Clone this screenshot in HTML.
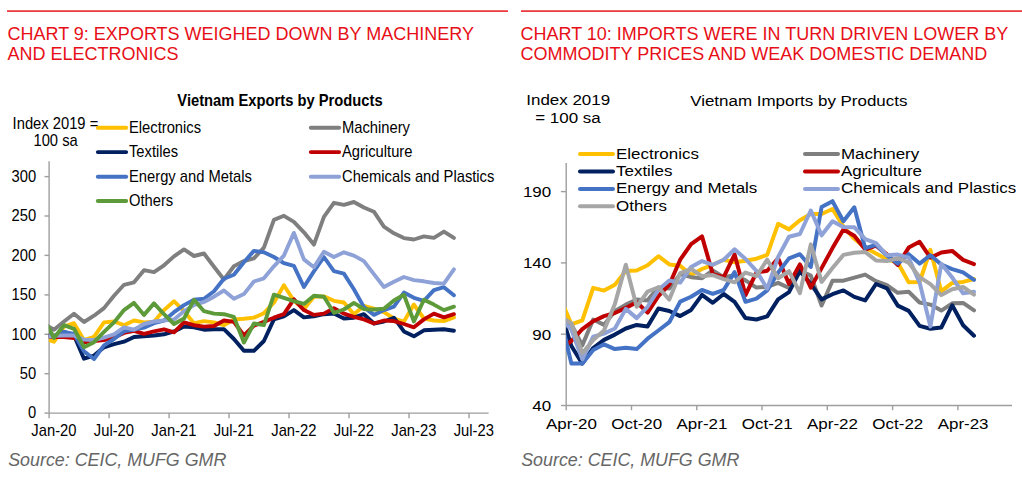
<!DOCTYPE html>
<html lang="en"><head><meta charset="utf-8"><title>Vietnam trade charts</title>
<style>html,body{margin:0;padding:0;background:#fff;}body{width:1022px;height:485px;overflow:hidden;}svg{display:block;font-family:"Liberation Sans", Arial, sans-serif;}</style></head><body>
<svg width="1022" height="485" viewBox="0 0 1022 485">
<rect width="1022" height="485" fill="#fff"/>
<rect x="7" y="10.3" width="501" height="1.6" fill="#E8262B"/>
<rect x="521" y="10.3" width="501" height="1.6" fill="#E8262B"/>
<text x="7.5" y="40.0" font-size="18.0" text-anchor="start" fill="#E70F17" font-weight="normal" font-style="normal">CHART 9: EXPORTS WEIGHED DOWN BY MACHINERY</text>
<text x="7.5" y="60.0" font-size="18.0" text-anchor="start" fill="#E70F17" font-weight="normal" font-style="normal">AND ELECTRONICS</text>
<text x="520.5" y="40.0" font-size="18.0" text-anchor="start" fill="#E70F17" font-weight="normal" font-style="normal">CHART 10: IMPORTS WERE IN TURN DRIVEN LOWER BY</text>
<text x="520.5" y="60.0" font-size="18.0" text-anchor="start" fill="#E70F17" font-weight="normal" font-style="normal">COMMODITY PRICES AND WEAK DOMESTIC DEMAND</text>
<g stroke="#9E9E9E" stroke-width="1.4" fill="none">
<line x1="49.1" y1="161.3" x2="49.1" y2="413.1"/>
<line x1="49.1" y1="413.1" x2="488.6" y2="413.1"/>
<line x1="44.5" y1="413.1" x2="49.1" y2="413.1"/>
<line x1="44.5" y1="373.7" x2="49.1" y2="373.7"/>
<line x1="44.5" y1="334.3" x2="49.1" y2="334.3"/>
<line x1="44.5" y1="294.9" x2="49.1" y2="294.9"/>
<line x1="44.5" y1="255.4" x2="49.1" y2="255.4"/>
<line x1="44.5" y1="216.0" x2="49.1" y2="216.0"/>
<line x1="44.5" y1="176.6" x2="49.1" y2="176.6"/>
<line x1="49.1" y1="413.1" x2="49.1" y2="418.2"/>
<line x1="109.1" y1="413.1" x2="109.1" y2="418.2"/>
<line x1="169.1" y1="413.1" x2="169.1" y2="418.2"/>
<line x1="229.0" y1="413.1" x2="229.0" y2="418.2"/>
<line x1="289.0" y1="413.1" x2="289.0" y2="418.2"/>
<line x1="349.0" y1="413.1" x2="349.0" y2="418.2"/>
<line x1="409.0" y1="413.1" x2="409.0" y2="418.2"/>
<line x1="469.0" y1="413.1" x2="469.0" y2="418.2"/>
</g>
<text transform="translate(36.2,418.3) scale(0.922,1)" font-size="16.0" text-anchor="end" fill="#000" font-weight="normal" font-style="normal">0</text>
<text transform="translate(36.2,378.9) scale(0.922,1)" font-size="16.0" text-anchor="end" fill="#000" font-weight="normal" font-style="normal">50</text>
<text transform="translate(36.2,339.5) scale(0.922,1)" font-size="16.0" text-anchor="end" fill="#000" font-weight="normal" font-style="normal">100</text>
<text transform="translate(36.2,300.1) scale(0.922,1)" font-size="16.0" text-anchor="end" fill="#000" font-weight="normal" font-style="normal">150</text>
<text transform="translate(36.2,260.6) scale(0.922,1)" font-size="16.0" text-anchor="end" fill="#000" font-weight="normal" font-style="normal">200</text>
<text transform="translate(36.2,221.2) scale(0.922,1)" font-size="16.0" text-anchor="end" fill="#000" font-weight="normal" font-style="normal">250</text>
<text transform="translate(36.2,181.8) scale(0.922,1)" font-size="16.0" text-anchor="end" fill="#000" font-weight="normal" font-style="normal">300</text>
<text transform="translate(53.9,436.4) scale(0.922,1)" font-size="16.0" text-anchor="middle" fill="#000" font-weight="normal" font-style="normal">Jan-20</text>
<text transform="translate(113.9,436.4) scale(0.922,1)" font-size="16.0" text-anchor="middle" fill="#000" font-weight="normal" font-style="normal">Jul-20</text>
<text transform="translate(173.9,436.4) scale(0.922,1)" font-size="16.0" text-anchor="middle" fill="#000" font-weight="normal" font-style="normal">Jan-21</text>
<text transform="translate(233.8,436.4) scale(0.922,1)" font-size="16.0" text-anchor="middle" fill="#000" font-weight="normal" font-style="normal">Jul-21</text>
<text transform="translate(293.8,436.4) scale(0.922,1)" font-size="16.0" text-anchor="middle" fill="#000" font-weight="normal" font-style="normal">Jan-22</text>
<text transform="translate(353.8,436.4) scale(0.922,1)" font-size="16.0" text-anchor="middle" fill="#000" font-weight="normal" font-style="normal">Jul-22</text>
<text transform="translate(413.8,436.4) scale(0.922,1)" font-size="16.0" text-anchor="middle" fill="#000" font-weight="normal" font-style="normal">Jan-23</text>
<text transform="translate(473.8,436.4) scale(0.922,1)" font-size="16.0" text-anchor="middle" fill="#000" font-weight="normal" font-style="normal">Jul-23</text>
<clipPath id="cl"><rect x="48.800000000000004" y="150" width="450" height="270"/></clipPath>
<g clip-path="url(#cl)">
<polyline points="47.1,339.3 54.0,341.7 64.0,326.6 74.0,323.2 84.0,340.2 94.0,336.8 104.0,322.4 114.0,321.5 124.0,325.2 134.0,320.5 144.0,322.4 154.0,321.7 164.0,310.1 174.0,301.2 184.0,311.2 194.0,323.2 204.0,321.1 214.0,322.4 223.9,325.2 233.9,319.4 243.9,318.7 253.9,317.6 263.9,313.2 273.9,302.7 283.9,285.2 293.9,300.8 303.9,309.1 313.9,296.7 323.9,296.4 333.9,300.8 343.9,302.5 353.9,314.2 363.9,306.0 373.9,308.7 383.9,312.2 393.9,318.5 403.9,321.5 413.9,304.6 423.9,318.5 433.9,320.5 443.9,321.1 453.9,317.4" fill="none" stroke="#FFC000" stroke-width="3.9" stroke-linejoin="round" stroke-linecap="round"/>
<polyline points="47.1,325.8 54.0,329.7 64.0,321.5 74.0,313.8 84.0,322.0 94.0,315.7 104.0,308.1 114.0,295.7 124.0,284.8 134.0,282.3 144.0,270.2 154.0,272.2 164.0,265.3 174.0,256.4 184.0,249.4 194.0,256.0 204.0,253.5 214.0,266.7 223.9,279.5 233.9,266.3 243.9,261.1 253.9,258.4 263.9,247.7 273.9,219.9 283.9,215.8 293.9,221.9 303.9,232.3 313.9,244.6 323.9,216.8 333.9,202.8 343.9,204.8 353.9,202.0 363.9,207.5 373.9,211.7 383.9,226.7 393.9,233.3 403.9,238.1 413.9,239.5 423.9,236.4 433.9,237.9 443.9,231.6 453.9,237.9" fill="none" stroke="#7F7F7F" stroke-width="3.9" stroke-linejoin="round" stroke-linecap="round"/>
<polyline points="47.1,335.2 54.0,336.3 64.0,331.9 74.0,335.5 84.0,358.7 94.0,355.6 104.0,347.3 114.0,344.2 124.0,341.7 134.0,337.0 144.0,336.3 154.0,335.5 164.0,334.3 174.0,331.4 184.0,326.6 194.0,327.3 204.0,329.7 214.0,329.3 223.9,329.1 233.9,339.0 243.9,350.8 253.9,350.8 263.9,341.0 273.9,319.4 283.9,316.3 293.9,310.1 303.9,317.4 313.9,316.3 323.9,314.2 333.9,313.6 343.9,318.5 353.9,317.7 363.9,314.2 373.9,323.5 383.9,321.5 393.9,317.7 403.9,331.4 413.9,336.3 423.9,330.3 433.9,329.7 443.9,329.3 453.9,330.8" fill="none" stroke="#002060" stroke-width="3.9" stroke-linejoin="round" stroke-linecap="round"/>
<polyline points="47.1,336.1 54.0,337.0 64.0,337.0 74.0,338.0 84.0,342.2 94.0,341.0 104.0,340.0 114.0,337.6 124.0,332.9 134.0,330.8 144.0,333.9 154.0,331.4 164.0,329.3 174.0,332.4 184.0,322.4 194.0,325.2 204.0,326.6 214.0,326.0 223.9,320.5 233.9,321.9 243.9,335.5 253.9,325.6 263.9,321.9 273.9,317.7 283.9,314.2 293.9,299.2 303.9,310.1 313.9,314.9 323.9,313.6 333.9,308.1 343.9,313.6 353.9,316.9 363.9,319.4 373.9,323.5 383.9,320.5 393.9,321.1 403.9,324.0 413.9,327.3 423.9,319.4 433.9,313.6 443.9,317.4 453.9,314.2" fill="none" stroke="#C00000" stroke-width="3.9" stroke-linejoin="round" stroke-linecap="round"/>
<polyline points="47.1,337.1 54.0,335.5 64.0,331.9 74.0,333.9 84.0,351.4 94.0,359.0 104.0,345.3 114.0,339.0 124.0,331.4 134.0,329.7 144.0,327.6 154.0,323.2 164.0,320.5 174.0,312.2 184.0,305.1 194.0,299.8 204.0,298.8 214.0,291.3 223.9,278.7 233.9,274.8 243.9,262.2 253.9,250.9 263.9,252.3 273.9,257.0 283.9,263.2 293.9,265.9 303.9,287.0 313.9,271.4 323.9,257.0 333.9,271.2 343.9,273.6 353.9,289.3 363.9,307.1 373.9,314.9 383.9,310.1 393.9,306.7 403.9,292.6 413.9,297.8 423.9,300.8 433.9,290.1 443.9,287.2 453.9,295.2" fill="none" stroke="#4472C4" stroke-width="3.9" stroke-linejoin="round" stroke-linecap="round"/>
<polyline points="47.1,336.5 54.0,335.8 64.0,335.5 74.0,335.5 84.0,339.6 94.0,340.0 104.0,337.6 114.0,334.3 124.0,327.3 134.0,329.7 144.0,324.0 154.0,321.5 164.0,320.5 174.0,319.4 184.0,311.2 194.0,305.1 204.0,301.9 214.0,296.7 223.9,290.5 233.9,298.8 243.9,294.1 253.9,281.5 263.9,278.3 273.9,266.3 283.9,255.6 293.9,232.9 303.9,259.4 313.9,267.3 323.9,251.7 333.9,257.0 343.9,252.3 353.9,255.6 363.9,261.1 373.9,274.1 383.9,287.0 393.9,281.8 403.9,277.0 413.9,280.1 423.9,281.3 433.9,283.0 443.9,283.6 453.9,269.4" fill="none" stroke="#8EA2D8" stroke-width="3.9" stroke-linejoin="round" stroke-linecap="round"/>
<polyline points="47.1,325.0 54.0,338.0 64.0,325.2 74.0,328.8 84.0,347.3 94.0,342.2 104.0,331.9 114.0,322.4 124.0,310.1 134.0,302.9 144.0,314.9 154.0,303.4 164.0,314.2 174.0,324.0 184.0,318.5 194.0,299.8 204.0,311.2 214.0,313.6 223.9,314.2 233.9,316.9 243.9,342.5 253.9,323.5 263.9,325.2 273.9,294.7 283.9,297.8 293.9,301.2 303.9,303.9 313.9,295.7 323.9,296.7 333.9,312.8 343.9,309.5 353.9,302.9 363.9,309.1 373.9,309.5 383.9,308.7 393.9,300.5 403.9,294.7 413.9,321.5 423.9,299.8 433.9,304.6 443.9,310.1 453.9,306.7" fill="none" stroke="#5D9A3A" stroke-width="3.9" stroke-linejoin="round" stroke-linecap="round"/>
</g>
<text transform="translate(280.0,106.0) scale(0.922,1)" font-size="16.0" text-anchor="middle" fill="#000" font-weight="bold" font-style="normal">Vietnam Exports by Products</text>
<text transform="translate(12.6,128.8) scale(0.922,1)" font-size="16.0" text-anchor="start" fill="#000" font-weight="normal" font-style="normal">Index 2019 =</text>
<text transform="translate(55.6,145.5) scale(0.922,1)" font-size="16.0" text-anchor="middle" fill="#000" font-weight="normal" font-style="normal">100 sa</text>
<line x1="97.8" y1="127.7" x2="126.19999999999999" y2="127.7" stroke="#FFC000" stroke-width="3.9" stroke-linecap="round"/>
<text transform="translate(129.0,132.7) scale(0.922,1)" font-size="16.0" text-anchor="start" fill="#000" font-weight="normal" font-style="normal">Electronics</text>
<line x1="310.8" y1="127.7" x2="339.2" y2="127.7" stroke="#7F7F7F" stroke-width="3.9" stroke-linecap="round"/>
<text transform="translate(342.0,132.7) scale(0.922,1)" font-size="16.0" text-anchor="start" fill="#000" font-weight="normal" font-style="normal">Machinery</text>
<line x1="97.8" y1="152.1" x2="126.19999999999999" y2="152.1" stroke="#002060" stroke-width="3.9" stroke-linecap="round"/>
<text transform="translate(129.0,157.1) scale(0.922,1)" font-size="16.0" text-anchor="start" fill="#000" font-weight="normal" font-style="normal">Textiles</text>
<line x1="310.8" y1="152.1" x2="339.2" y2="152.1" stroke="#C00000" stroke-width="3.9" stroke-linecap="round"/>
<text transform="translate(342.0,157.1) scale(0.922,1)" font-size="16.0" text-anchor="start" fill="#000" font-weight="normal" font-style="normal">Agriculture</text>
<line x1="97.8" y1="176.7" x2="126.19999999999999" y2="176.7" stroke="#4472C4" stroke-width="3.9" stroke-linecap="round"/>
<text transform="translate(129.0,181.7) scale(0.922,1)" font-size="16.0" text-anchor="start" fill="#000" font-weight="normal" font-style="normal">Energy and Metals</text>
<line x1="310.8" y1="176.7" x2="339.2" y2="176.7" stroke="#8EA2D8" stroke-width="3.9" stroke-linecap="round"/>
<text transform="translate(342.0,181.7) scale(0.922,1)" font-size="16.0" text-anchor="start" fill="#000" font-weight="normal" font-style="normal">Chemicals and Plastics</text>
<line x1="97.8" y1="201.0" x2="126.19999999999999" y2="201.0" stroke="#5D9A3A" stroke-width="3.9" stroke-linecap="round"/>
<text transform="translate(129.0,206.0) scale(0.922,1)" font-size="16.0" text-anchor="start" fill="#000" font-weight="normal" font-style="normal">Others</text>
<text x="8.2" y="465.8" font-size="17.85" text-anchor="start" fill="#666" font-weight="normal" font-style="italic">Source: CEIC, MUFG GMR</text>
<g stroke="#9E9E9E" stroke-width="1.4" fill="none">
<line x1="566.2" y1="163" x2="566.2" y2="405.5"/>
<line x1="566.2" y1="405.5" x2="1012" y2="405.5"/>
<line x1="560.9" y1="405.5" x2="566.2" y2="405.5"/>
<line x1="560.9" y1="334.2" x2="566.2" y2="334.2"/>
<line x1="560.9" y1="262.9" x2="566.2" y2="262.9"/>
<line x1="560.9" y1="191.6" x2="566.2" y2="191.6"/>
<line x1="566.2" y1="405.5" x2="566.2" y2="410.2"/>
<line x1="631.5" y1="405.5" x2="631.5" y2="410.2"/>
<line x1="696.8" y1="405.5" x2="696.8" y2="410.2"/>
<line x1="762.0" y1="405.5" x2="762.0" y2="410.2"/>
<line x1="827.3" y1="405.5" x2="827.3" y2="410.2"/>
<line x1="892.6" y1="405.5" x2="892.6" y2="410.2"/>
<line x1="957.9" y1="405.5" x2="957.9" y2="410.2"/>
</g>
<text transform="translate(551.2,410.8) scale(1.131,1)" font-size="15.0" text-anchor="end" fill="#000" font-weight="normal" font-style="normal">40</text>
<text transform="translate(551.2,339.5) scale(1.131,1)" font-size="15.0" text-anchor="end" fill="#000" font-weight="normal" font-style="normal">90</text>
<text transform="translate(551.2,268.2) scale(1.131,1)" font-size="15.0" text-anchor="end" fill="#000" font-weight="normal" font-style="normal">140</text>
<text transform="translate(551.2,196.9) scale(1.131,1)" font-size="15.0" text-anchor="end" fill="#000" font-weight="normal" font-style="normal">190</text>
<text transform="translate(571.4,429.1) scale(1.131,1)" font-size="15.0" text-anchor="middle" fill="#000" font-weight="normal" font-style="normal">Apr-20</text>
<text transform="translate(636.7,429.1) scale(1.131,1)" font-size="15.0" text-anchor="middle" fill="#000" font-weight="normal" font-style="normal">Oct-20</text>
<text transform="translate(702.0,429.1) scale(1.131,1)" font-size="15.0" text-anchor="middle" fill="#000" font-weight="normal" font-style="normal">Apr-21</text>
<text transform="translate(767.2,429.1) scale(1.131,1)" font-size="15.0" text-anchor="middle" fill="#000" font-weight="normal" font-style="normal">Oct-21</text>
<text transform="translate(832.5,429.1) scale(1.131,1)" font-size="15.0" text-anchor="middle" fill="#000" font-weight="normal" font-style="normal">Apr-22</text>
<text transform="translate(897.8,429.1) scale(1.131,1)" font-size="15.0" text-anchor="middle" fill="#000" font-weight="normal" font-style="normal">Oct-22</text>
<text transform="translate(963.1,429.1) scale(1.131,1)" font-size="15.0" text-anchor="middle" fill="#000" font-weight="normal" font-style="normal">Apr-23</text>
<clipPath id="cr"><rect x="565.9000000000001" y="150" width="450" height="270"/></clipPath>
<g clip-path="url(#cr)">
<polyline points="564.2,307.3 571.4,324.4 582.3,320.3 593.2,287.9 604.0,290.6 614.9,284.7 625.8,270.9 636.7,270.5 647.6,265.3 658.4,256.2 669.3,264.4 680.2,265.8 691.1,275.1 702.0,269.0 712.8,264.8 723.7,259.7 734.6,262.3 745.5,260.7 756.4,258.7 767.2,254.9 778.1,223.8 789.0,229.4 799.9,220.2 810.8,214.0 821.6,214.0 832.5,209.0 843.4,226.5 854.3,238.8 865.2,247.8 876.0,253.5 886.9,259.3 897.8,262.7 908.7,282.2 919.6,282.0 930.4,249.9 941.3,291.4 952.2,282.9 963.1,281.9 974.0,279.0" fill="none" stroke="#FFC000" stroke-width="4.0" stroke-linejoin="round" stroke-linecap="round"/>
<polyline points="564.2,320.0 571.4,324.4 582.3,345.4 593.2,319.5 604.0,324.9 614.9,311.0 625.8,304.6 636.7,299.6 647.6,300.4 658.4,287.4 669.3,288.6 680.2,274.1 691.1,277.2 702.0,278.2 712.8,270.5 723.7,277.2 734.6,275.1 745.5,280.3 756.4,287.6 767.2,286.9 778.1,282.9 789.0,288.0 799.9,270.5 810.8,275.6 821.6,305.5 832.5,280.7 843.4,280.7 854.3,277.6 865.2,274.6 876.0,281.2 886.9,285.2 897.8,292.8 908.7,291.8 919.6,302.5 930.4,304.6 941.3,310.6 952.2,303.3 963.1,302.9 974.0,310.3" fill="none" stroke="#7F7F7F" stroke-width="4.0" stroke-linejoin="round" stroke-linecap="round"/>
<polyline points="564.2,323.1 571.4,346.0 582.3,363.6 593.2,348.0 604.0,339.9 614.9,334.6 625.8,328.5 636.7,324.9 647.6,326.4 658.4,308.5 669.3,311.0 680.2,316.1 691.1,309.9 702.0,294.8 712.8,302.8 723.7,294.0 734.6,301.8 745.5,318.1 756.4,319.5 767.2,316.3 778.1,299.4 789.0,292.1 799.9,271.1 810.8,283.9 821.6,299.4 832.5,294.2 843.4,290.4 854.3,296.9 865.2,300.4 876.0,284.0 886.9,288.3 897.8,305.6 908.7,310.9 919.6,325.9 930.4,328.8 941.3,327.5 952.2,305.3 963.1,325.2 974.0,335.7" fill="none" stroke="#002060" stroke-width="4.0" stroke-linejoin="round" stroke-linecap="round"/>
<polyline points="564.2,346.8 571.4,340.9 582.3,329.1 593.2,321.2 604.0,316.1 614.9,313.0 625.8,307.9 636.7,302.2 647.6,312.6 658.4,296.1 669.3,284.7 680.2,259.7 691.1,244.2 702.0,236.4 712.8,274.1 723.7,277.2 734.6,254.5 745.5,295.0 756.4,272.6 767.2,270.8 778.1,258.3 789.0,283.9 799.9,264.4 810.8,287.6 821.6,268.1 832.5,248.1 843.4,229.4 854.3,235.7 865.2,249.5 876.0,245.6 886.9,254.2 897.8,265.0 908.7,247.6 919.6,241.8 930.4,257.7 941.3,252.5 952.2,250.9 963.1,259.9 974.0,264.1" fill="none" stroke="#C00000" stroke-width="4.0" stroke-linejoin="round" stroke-linecap="round"/>
<polyline points="564.2,333.5 571.4,363.6 582.3,363.6 593.2,350.1 604.0,344.3 614.9,349.1 625.8,347.7 636.7,349.1 647.6,338.7 658.4,330.5 669.3,322.2 680.2,301.6 691.1,296.7 702.0,290.0 712.8,293.8 723.7,290.0 734.6,272.1 745.5,301.8 756.4,298.7 767.2,290.4 778.1,272.6 789.0,258.4 799.9,254.2 810.8,267.0 821.6,207.0 832.5,201.2 843.4,221.2 854.3,207.3 865.2,248.2 876.0,244.9 886.9,255.6 897.8,263.6 908.7,254.2 919.6,263.6 930.4,255.2 941.3,264.5 952.2,269.1 963.1,272.4 974.0,279.9" fill="none" stroke="#4472C4" stroke-width="4.0" stroke-linejoin="round" stroke-linecap="round"/>
<polyline points="564.2,322.4 571.4,329.5 582.3,359.3 593.2,336.7 604.0,333.6 614.9,328.5 625.8,308.9 636.7,318.1 647.6,306.8 658.4,289.7 669.3,280.5 680.2,282.6 691.1,267.0 702.0,261.1 712.8,264.8 723.7,259.7 734.6,249.3 745.5,259.0 756.4,270.8 767.2,288.7 778.1,257.0 789.0,236.7 799.9,234.0 810.8,210.5 821.6,235.3 832.5,221.2 843.4,227.0 854.3,227.2 865.2,239.1 876.0,243.2 886.9,255.3 897.8,254.6 908.7,257.7 919.6,282.6 930.4,326.4 941.3,263.8 952.2,277.5 963.1,293.3 974.0,291.8" fill="none" stroke="#8EA2D8" stroke-width="4.0" stroke-linejoin="round" stroke-linecap="round"/>
<polyline points="564.2,319.1 571.4,323.2 582.3,353.2 593.2,339.9 604.0,330.5 614.9,303.9 625.8,264.8 636.7,306.8 647.6,291.5 658.4,287.4 669.3,299.6 680.2,273.1 691.1,269.0 702.0,276.2 712.8,275.1 723.7,279.2 734.6,282.3 745.5,272.6 756.4,276.2 767.2,259.7 778.1,278.3 789.0,271.2 799.9,293.1 810.8,244.4 821.6,281.9 832.5,268.1 843.4,254.9 854.3,252.8 865.2,252.0 876.0,260.4 886.9,261.1 897.8,258.2 908.7,262.7 919.6,277.1 930.4,284.2 941.3,295.1 952.2,289.3 963.1,287.0 974.0,294.7" fill="none" stroke="#A6A6A6" stroke-width="4.0" stroke-linejoin="round" stroke-linecap="round"/>
</g>
<text transform="translate(798.8,106.0) scale(1.131,1)" font-size="15.0" text-anchor="middle" fill="#000" font-weight="normal" font-style="normal">Vietnam Imports by Products</text>
<text transform="translate(568.2,105.0) scale(1.131,1)" font-size="15.0" text-anchor="middle" fill="#000" font-weight="normal" font-style="normal">Index 2019</text>
<text transform="translate(568.0,122.6) scale(1.131,1)" font-size="15.0" text-anchor="middle" fill="#000" font-weight="normal" font-style="normal">= 100 sa</text>
<line x1="580" y1="154.1" x2="613" y2="154.1" stroke="#FFC000" stroke-width="4.0" stroke-linecap="round"/>
<text transform="translate(616.0,158.6) scale(1.131,1)" font-size="15.0" text-anchor="start" fill="#000" font-weight="normal" font-style="normal">Electronics</text>
<line x1="805" y1="154.1" x2="838" y2="154.1" stroke="#7F7F7F" stroke-width="4.0" stroke-linecap="round"/>
<text transform="translate(841.0,158.6) scale(1.131,1)" font-size="15.0" text-anchor="start" fill="#000" font-weight="normal" font-style="normal">Machinery</text>
<line x1="580" y1="171.5" x2="613" y2="171.5" stroke="#002060" stroke-width="4.0" stroke-linecap="round"/>
<text transform="translate(616.0,176.0) scale(1.131,1)" font-size="15.0" text-anchor="start" fill="#000" font-weight="normal" font-style="normal">Textiles</text>
<line x1="805" y1="171.5" x2="838" y2="171.5" stroke="#C00000" stroke-width="4.0" stroke-linecap="round"/>
<text transform="translate(841.0,176.0) scale(1.131,1)" font-size="15.0" text-anchor="start" fill="#000" font-weight="normal" font-style="normal">Agriculture</text>
<line x1="580" y1="188.9" x2="613" y2="188.9" stroke="#4472C4" stroke-width="4.0" stroke-linecap="round"/>
<text transform="translate(616.0,193.4) scale(1.131,1)" font-size="15.0" text-anchor="start" fill="#000" font-weight="normal" font-style="normal">Energy and Metals</text>
<line x1="805" y1="188.9" x2="838" y2="188.9" stroke="#8EA2D8" stroke-width="4.0" stroke-linecap="round"/>
<text transform="translate(841.0,193.4) scale(1.131,1)" font-size="15.0" text-anchor="start" fill="#000" font-weight="normal" font-style="normal">Chemicals and Plastics</text>
<line x1="580" y1="206.3" x2="613" y2="206.3" stroke="#A6A6A6" stroke-width="4.0" stroke-linecap="round"/>
<text transform="translate(616.0,210.8) scale(1.131,1)" font-size="15.0" text-anchor="start" fill="#000" font-weight="normal" font-style="normal">Others</text>
<text x="521.2" y="465.8" font-size="17.85" text-anchor="start" fill="#666" font-weight="normal" font-style="italic">Source: CEIC, MUFG GMR</text>
</svg></body></html>
